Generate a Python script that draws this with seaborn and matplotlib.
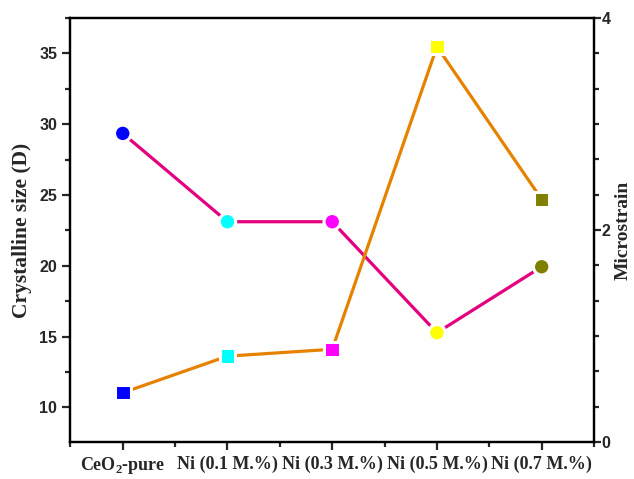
import matplotlib
matplotlib.use("Agg")
import matplotlib.pyplot as plt
from matplotlib.ticker import MultipleLocator, FixedLocator
import seaborn as sns
import pandas as pd

# Samples and measured values
samples = [r"CeO$_\mathbf{2}$-pure", "Ni (0.1 M.%)", "Ni (0.3 M.%)",
           "Ni (0.5 M.%)", "Ni (0.7 M.%)"]
crystalline_size = [29.35, 23.11, 23.11, 15.27, 19.93]
microstrain = [0.465, 0.81, 0.875, 3.73, 2.29]
point_colors = ["#0000ff", "#00ffff", "#ff00ff", "#ffff00", "#808000"]

sns.set_style("ticks")
plt.rcParams["font.family"] = ["Liberation Serif", "DejaVu Serif"]
plt.rcParams["mathtext.fontset"] = "custom"
plt.rcParams["mathtext.rm"] = "Liberation Serif:bold"
plt.rcParams["mathtext.bf"] = "Liberation Serif:bold"

df = pd.DataFrame({"sample": samples, "size": crystalline_size,
                   "strain": microstrain})
palette = dict(zip(samples, point_colors))

fig = plt.figure(figsize=(6.34, 4.79), dpi=100)
ax = fig.add_axes([0.111, 0.0772, 0.826, 0.8852])
ax2 = ax.twinx()

size_line = "#e4007f"
strain_line = "#e68200"

# Crystalline size: circles joined by a pink line
sns.lineplot(data=df, x="sample", y="size", ax=ax, color=size_line,
             linewidth=2.3, sort=False, zorder=2)
sns.scatterplot(data=df, x="sample", y="size", hue="sample", palette=palette,
                ax=ax, marker="o", s=140, edgecolor="white", linewidth=2.2,
                legend=False, zorder=3)

# Microstrain: squares joined by an orange line
sns.lineplot(data=df, x="sample", y="strain", ax=ax2, color=strain_line,
             linewidth=2.3, sort=False, zorder=2)
sns.scatterplot(data=df, x="sample", y="strain", hue="sample", palette=palette,
                ax=ax2, marker="s", s=125, edgecolor="white", linewidth=2.2,
                legend=False, zorder=3)

ax.set_xlim(-0.5, 4.5)
ax.set_ylim(7.55, 37.5)
ax2.set_ylim(0, 4)

ax.yaxis.set_major_locator(MultipleLocator(5))
ax.yaxis.set_minor_locator(MultipleLocator(2.5))
ax.xaxis.set_minor_locator(FixedLocator([-0.5, 0.5, 1.5, 2.5, 3.5, 4.5]))
ax2.yaxis.set_major_locator(MultipleLocator(2))
ax2.yaxis.set_minor_locator(MultipleLocator(1 / 3))

for a in (ax, ax2):
    for sp in a.spines.values():
        sp.set_linewidth(1.6)
        sp.set_visible(True)
        sp.set_color("black")

ax.tick_params(axis="both", which="major", direction="out", length=6,
               width=1.6, top=False, right=False)
ax.tick_params(axis="both", which="minor", direction="out", length=3.5,
               width=1.6, top=False, right=False)
ax2.tick_params(axis="y", which="major", direction="out", length=5,
                width=1.6, right=True, left=False, pad=0.5)
ax2.tick_params(axis="y", which="minor", direction="out", length=3.5,
                width=1.6, right=True, left=False)

ax.set_xticks(range(len(samples)))
ax.set_xticklabels(samples, fontsize=13, fontweight="bold",
                   family="Liberation Serif")
for lbl in ax.get_yticklabels() + ax2.get_yticklabels():
    lbl.set_family("Liberation Sans")
    lbl.set_fontweight("bold")
    lbl.set_fontsize(11.5)

ax.set_xlabel("")
ax.set_ylabel("Crystalline size (D)", fontsize=15.5, fontweight="bold",
              labelpad=5)
ax2.set_ylabel("Microstrain", fontsize=14, fontweight="bold", labelpad=3)

fig.savefig("out.png", dpi=100)
